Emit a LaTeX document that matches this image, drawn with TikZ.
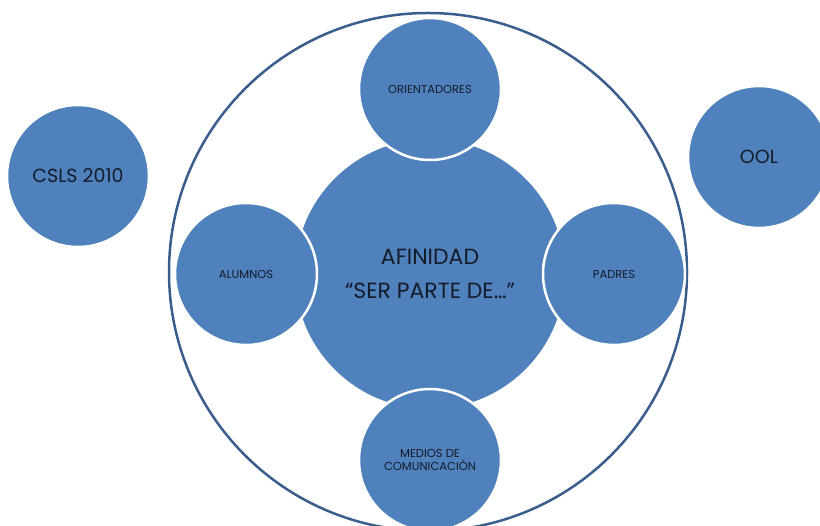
\documentclass[tikz,border=0pt]{standalone}
\usepackage{fontspec}
\setmainfont{Poppins}
\usetikzlibrary{shapes}
\definecolor{office blue}{HTML}{4F81BD}
\definecolor{ring blue}{HTML}{3A5E8C}
\definecolor{label ink}{HTML}{141B29}
\tikzstyle{ring}=[draw=ring blue, line width=2.5pt, circle, fill=none, inner sep=0pt, minimum size=518pt]
\tikzstyle{core}=[circle, fill=office blue, draw=white, line width=2pt, inner sep=0pt, minimum size=272pt, text=label ink, align=center, font=\fontsize{22}{34}\selectfont]
\tikzstyle{satellite}=[circle, fill=office blue, draw=white, line width=2.5pt, inner sep=0pt, minimum size=142pt, text=label ink, align=center, font=\fontsize{11.5}{13}\selectfont]
\tikzstyle{outer satellite}=[satellite, font=\fontsize{19}{24}\selectfont]

\begin{document}
\begin{tikzpicture}[x=1pt, y=-1pt]
\useasboundingbox (0,0) rectangle (820,526);
% First the big ring and the core

\node[ring] (ring) at (428,272) {};
\node[core] (core) at (430,274) {AFINIDAD\\“SER PARTE DE…”};

% Circles sitting on the ring
\foreach \pos/\name/\txt in {
	{(430,89)/orientadores/ORIENTADORES},
	{(614,274)/padres/PADRES},
	{(246,274)/alumnos/ALUMNOS},
	{(430,460)/medios/MEDIOS DE\\COMUNICACIÓN}}
\node[satellite] (\name) at \pos {\txt};

% Circles outside the ring
\node[outer satellite] (csls) at (78,176) {CSLS 2010};
\node[outer satellite] (ool) at (759,157) {OOL};

\end{tikzpicture}
\end{document}
